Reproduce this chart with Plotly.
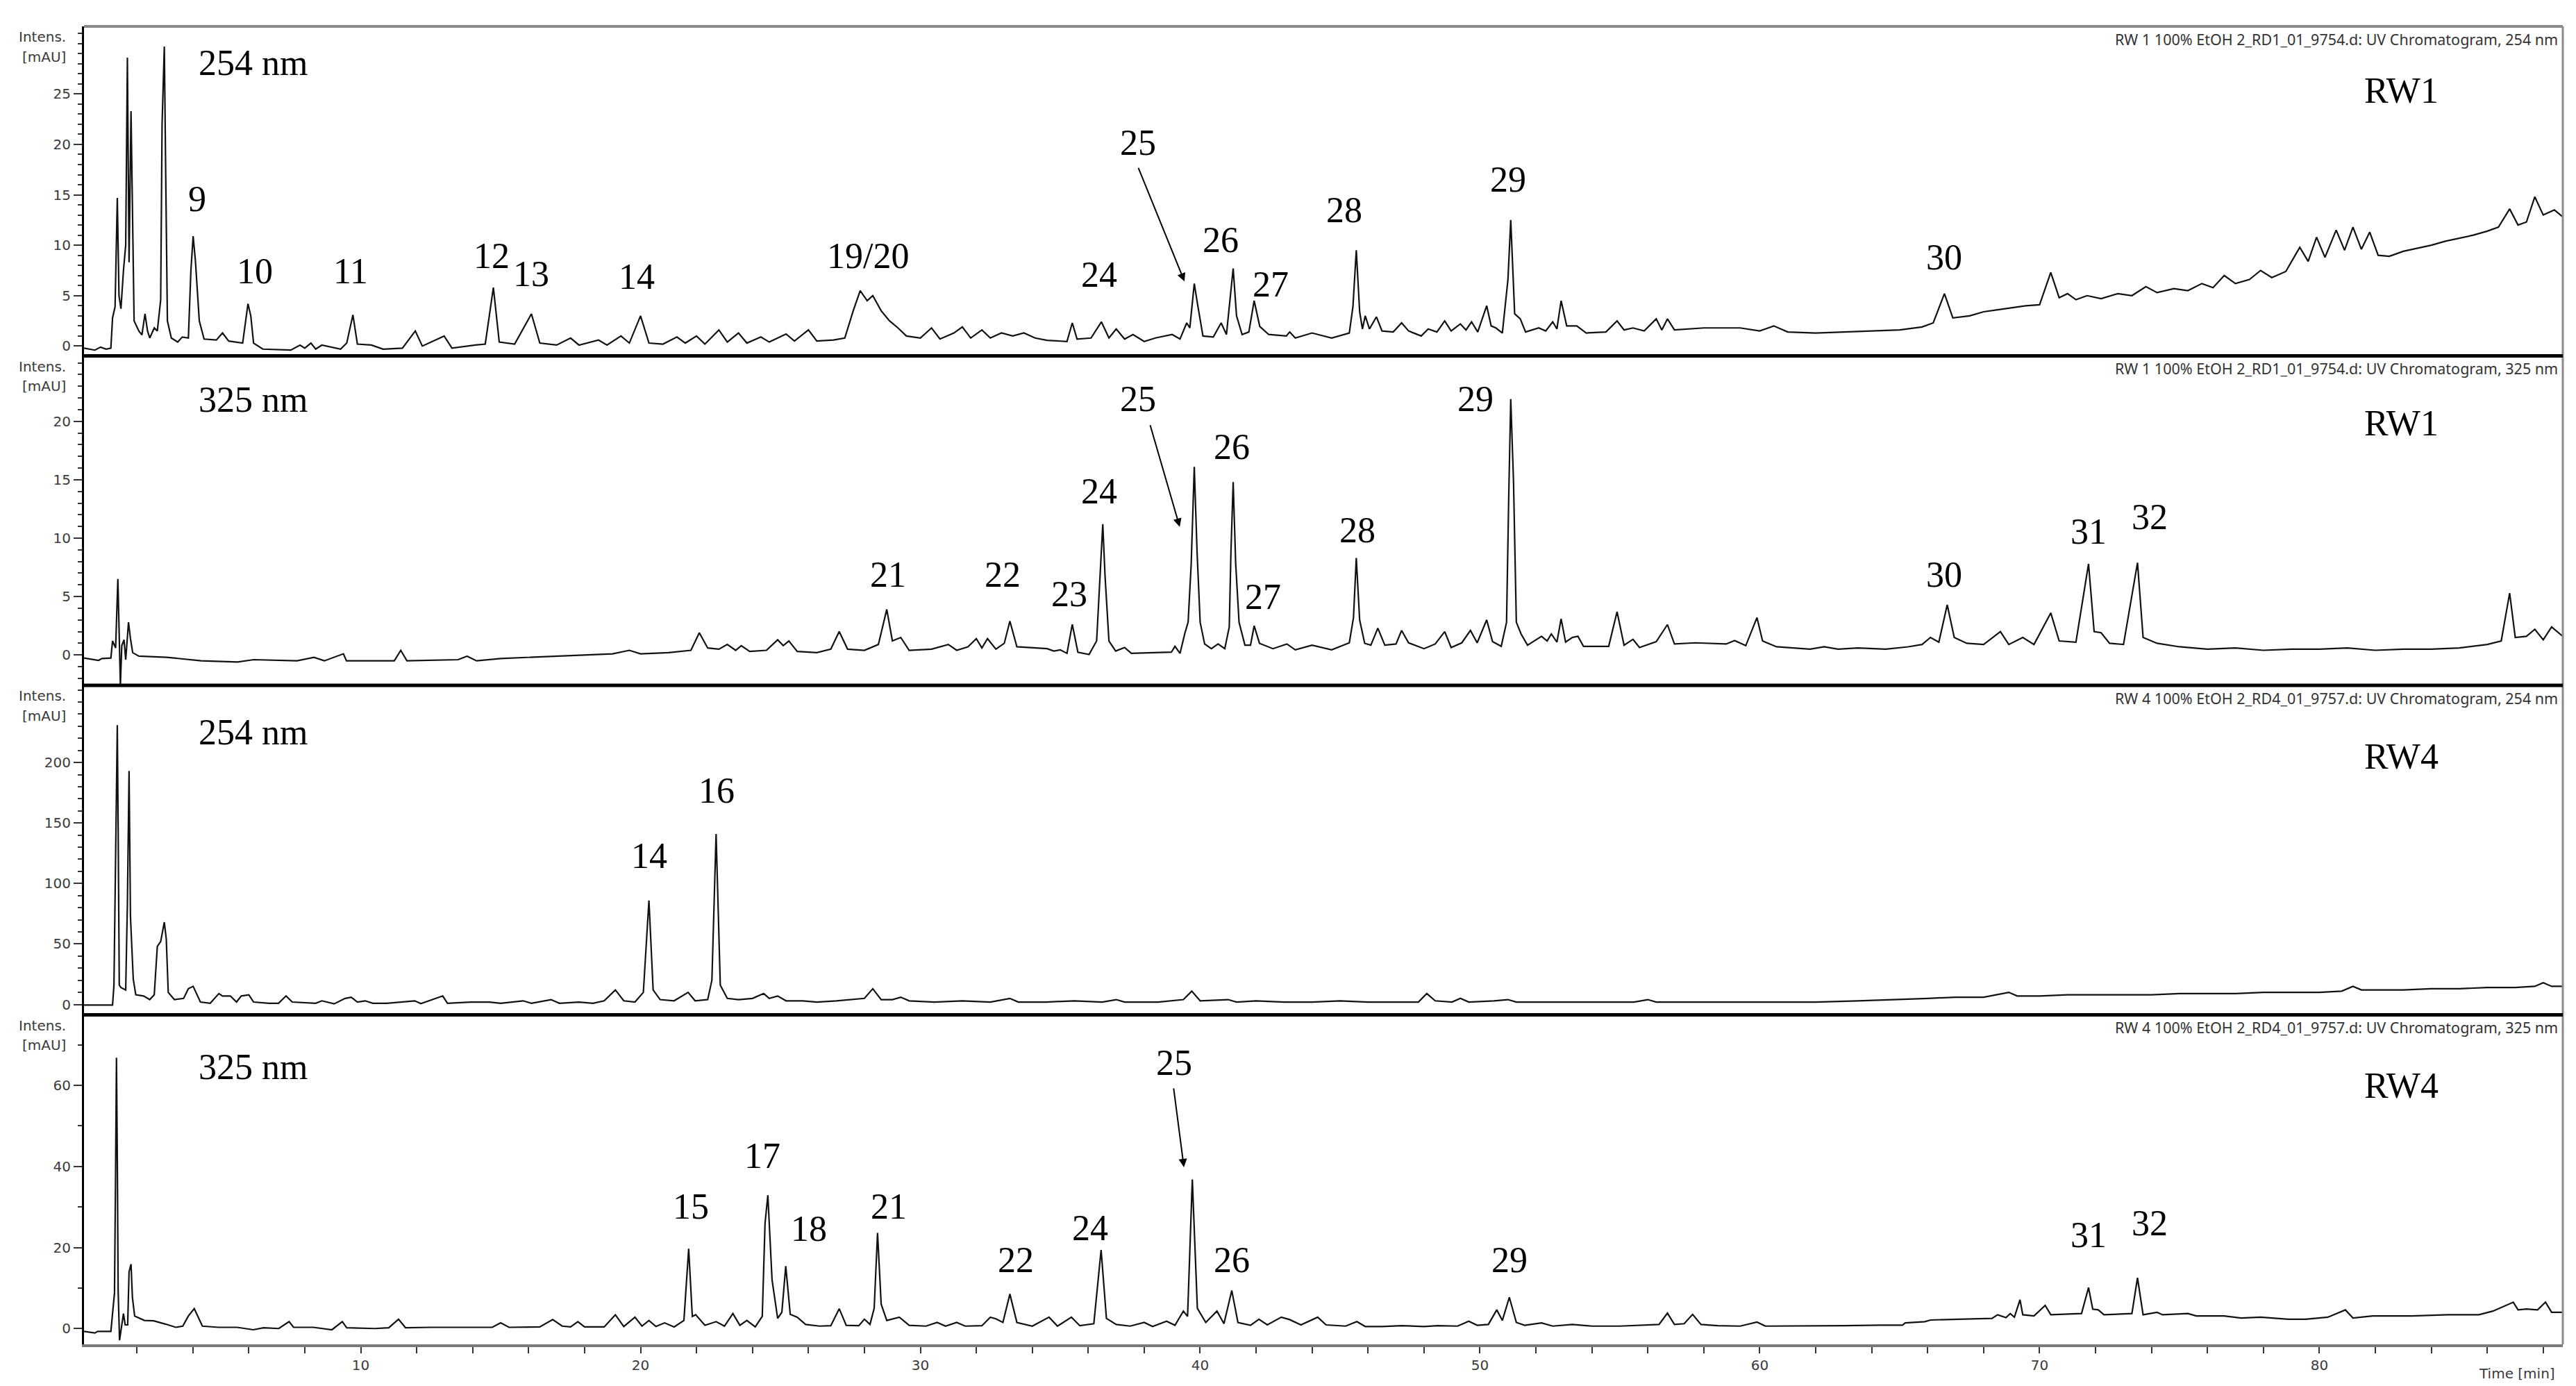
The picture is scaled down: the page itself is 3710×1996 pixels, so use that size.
import plotly.graph_objects as go
from plotly.subplots import make_subplots

# retention time [min], intensity [mAU]
rw1_254 = [(0.11,-0.2),(0.5,-0.4),(0.7,-0.1),(0.9,-0.3),(1.07,-0.2),(1.13,2.8),(1.22,3.9),(1.30,14.7),(1.36,5),(1.43,3.7),
           (1.52,7.5),(1.60,10),(1.66,28.6),(1.72,8.3),(1.79,23.3),(1.85,10),(1.90,2.5),(2.07,1.5),(2.18,1.1),(2.29,3.2),
           (2.38,1.5),(2.46,0.8),(2.62,1.8),(2.73,1.5),(2.85,4.6),(2.90,22),(2.98,29.7),(3.03,17),(3.09,2.5),(3.23,0.8),
           (3.46,0.4),(3.62,0.9),(3.84,0.8),(3.93,7.5),(4.01,10.9),(4.09,8.5),(4.23,2.5),(4.40,0.7),(4.84,0.6),(5.06,1.3),
           (5.28,0.5),(5.78,0.3),(5.90,3.0),(5.97,4.2),(6.07,3.0),(6.17,0.3),(6.50,-0.3),(7.50,-0.4),(7.83,0.1),(8.0,-0.2),
           (8.22,0.3),(8.39,-0.3),(8.61,0.1),(9.28,-0.3),(9.5,0.3),(9.72,3.1),(9.88,0.2),(10.38,0.1),(10.8,-0.3),(11.49,-0.2),
           (11.95,1.5),(12.2,0),(12.98,1.0),(13.26,-0.2),(14.1,0.1),(14.45,0.2),(14.74,5.8),(14.95,0.4),(15.5,0.2),(16.1,3.2),
           (16.4,0.3),(17.0,0.1),(17.5,0.8),(17.8,0.1),(18.5,0.6),(18.8,0.1),(19.3,1.0),(19.6,0.3),(20.0,3.0),(20.3,0.3),
           (20.8,0.2),(21.3,0.9),(21.6,0.3),(22.0,1.0),(22.3,0.2),(22.8,1.6),(23.1,0.4),(23.5,1.3),(23.8,0.3),(24.3,0.9),
           (24.6,0.4),(25.2,1.2),(25.5,0.5),(26.0,1.6),(26.3,0.5),(26.9,0.6),(27.3,0.8),(27.6,3.5),(27.85,5.5),(28.1,4.5),
           (28.3,5.0),(28.6,3.5),(28.9,2.5),(29.2,1.8),(29.5,1.0),(30.0,0.8),(30.4,1.8),(30.7,0.7),(31.2,1.3),(31.5,1.9),
           (31.8,0.8),(32.2,1.6),(32.5,0.8),(32.9,1.3),(33.3,1.0),(33.7,1.3),(34.1,0.8),(34.53,0.57),(35.24,0.46),(35.43,2.3),
           (35.6,0.7),(36.1,0.8),(36.47,2.4),(36.74,0.8),(37.0,1.7),(37.3,0.7),(37.6,1.15),(38.0,0.46),(38.4,0.8),(39.0,1.15),
           (39.28,0.7),(39.52,2.3),(39.63,1.8),(39.79,6.2),(39.91,4.1),(40.1,1.0),(40.47,0.9),(40.75,2.3),(40.94,1.15),(41.18,7.7),
           (41.3,3.0),(41.5,1.15),(41.74,1.4),(41.93,4.5),(42.13,1.95),(42.45,1.15),(43.08,1.0),(43.2,1.4),(43.4,0.8),(44.0,1.3),
           (44.7,0.8),(45.33,1.3),(45.46,3.9),(45.58,9.5),(45.7,3.4),(45.8,1.7),(45.9,3.0),(46.05,1.7),(46.3,2.9),(46.5,1.5),
           (46.9,1.4),(47.2,2.3),(47.45,1.5),(47.9,1.0),(48.15,1.7),(48.46,1.4),(48.74,2.5),(48.97,1.5),(49.3,2.2),(49.5,1.6),
           (49.7,2.4),(49.92,1.4),(50.24,4.0),(50.4,2.0),(50.57,1.8),(50.8,1.3),(51.0,6.6),(51.1,12.5),(51.24,3.2),(51.44,2.7),
           (51.63,1.4),(52.1,1.8),(52.35,1.5),(52.6,2.4),(52.75,1.7),(52.9,4.5),(53.1,2.0),(53.46,2.0),(53.8,1.3),(54.5,1.4),
           (54.9,2.5),(55.15,1.6),(55.47,1.8),(55.87,1.5),(56.3,2.7),(56.5,1.6),(56.7,2.7),(56.95,1.6),(58.0,1.8),(59.3,1.8),
           (60.0,1.5),(60.5,2.0),(61.0,1.4),(62.0,1.3),(63.0,1.4),(64.0,1.5),(65.0,1.6),(65.8,1.9),(66.2,2.3),(66.6,5.2),
           (66.9,2.8),(67.5,3.0),(68.0,3.4),(68.5,3.6),(69.0,3.8),(69.5,4.0),(70.0,4.1),(70.4,7.3),(70.7,4.8),(71.0,5.2),
           (71.3,4.6),(71.7,5.0),(72.2,4.7),(72.8,5.2),(73.3,5.0),(73.8,5.9),(74.2,5.3),(74.8,5.7),(75.3,5.5),(75.8,6.2),
           (76.2,5.8),(76.6,7.0),(77.0,6.2),(77.5,6.6),(77.9,7.5),(78.3,6.8),(78.8,7.4),(79.3,9.8),(79.6,8.4),(79.9,10.8),
           (80.2,8.8),(80.6,11.5),(80.9,9.5),(81.2,11.8),(81.5,9.6),(81.8,11.3),(82.1,9.0),(82.5,8.9),(83.0,9.4),(83.5,9.7),
           (84.0,10.0),(84.5,10.4),(85.0,10.7),(85.5,11.0),(86.0,11.4),(86.4,11.8),(86.8,13.6),(87.1,12.0),(87.4,12.3),(87.7,14.8),
           (88.0,13.0),(88.4,13.5),(88.7,12.8)]

rw1_325 = [(0.11,-0.26),(0.63,-0.46),(0.75,-0.3),(1.07,-0.26),(1.13,1.2),(1.24,0.6),(1.32,6.5),(1.37,0.8),(1.41,-2.6),(1.46,0.8),
           (1.54,1.3),(1.60,-0.4),(1.70,2.8),(1.77,1.4),(1.85,0.2),(2.07,-0.1),(3.07,-0.2),(4.3,-0.5),(5.6,-0.6),(6.17,-0.4),
           (7.72,-0.5),(8.33,-0.2),(8.7,-0.5),(9.38,0.1),(9.49,-0.5),(11.2,-0.5),(11.43,0.4),(11.65,-0.5),(13.48,-0.4),(13.8,-0.1),
           (14.14,-0.5),(15.0,-0.3),(16.0,-0.2),(17.0,-0.1),(18.0,0.0),(19.0,0.1),(19.6,0.4),(20.0,0.1),(21.0,0.2),(21.8,0.4),
           (22.1,1.9),(22.4,0.6),(22.8,0.5),(23.1,0.9),(23.4,0.4),(23.6,0.8),(23.9,0.3),(24.5,0.4),(24.9,1.3),(25.1,0.8),
           (25.3,1.2),(25.6,0.3),(26.3,0.2),(26.8,0.5),(27.1,2.0),(27.4,0.5),(28.0,0.4),(28.5,0.9),(28.8,3.9),(29.0,1.2),
           (29.3,1.5),(29.6,0.4),(30.4,0.5),(31.0,0.9),(31.3,0.4),(31.7,0.7),(32.0,1.4),(32.2,0.6),(32.4,1.4),(32.7,0.5),
           (33.0,1.0),(33.2,2.9),(33.45,0.7),(34.0,0.6),(34.53,0.54),(34.77,0.34),(35.0,0.44),(35.24,0.14),(35.43,2.62),(35.63,0.24),
           (36.03,0.04),(36.3,1.2),(36.42,6.8),(36.52,11.2),(36.6,6.8),(36.74,1.2),(36.98,0.34),(37.3,0.64),(37.54,0.14),(38.97,0.24),
           (39.1,0.74),(39.28,0.14),(39.45,1.83),(39.57,2.82),(39.68,7.8),(39.79,16.1),(39.89,8.8),(40.0,2.8),(40.16,0.94),(40.4,0.54),
           (40.64,0.94),(40.88,0.54),(41.04,2.4),(41.1,8.8),(41.18,14.8),(41.27,7.8),(41.39,2.8),(41.6,0.84),(41.8,0.84),(41.93,2.5),
           (42.12,1.0),(42.6,0.54),(43.1,0.94),(43.4,0.44),(44.0,0.84),(44.7,0.44),(45.33,1.04),(45.48,3.2),(45.58,8.3),(45.7,3.0),
           (45.88,1.0),(46.1,0.84),(46.35,2.3),(46.6,0.84),(47.0,0.94),(47.2,2.1),(47.45,1.04),(48.0,0.54),(48.4,0.94),(48.74,2.0),
           (48.97,0.64),(49.35,1.04),(49.66,2.1),(49.9,1.04),(50.24,3.0),(50.45,1.14),(50.76,0.74),(50.95,2.8),(51.03,13.75),(51.1,21.9),
           (51.2,14.8),(51.3,2.8),(51.47,1.8),(51.7,0.84),(52.2,1.6),(52.4,1.2),(52.55,1.8),(52.75,1.1),(52.9,3.1),(53.06,1.1),
           (53.3,1.5),(53.5,1.6),(53.7,0.74),(54.6,0.74),(54.9,3.7),(55.15,0.84),(55.47,1.34),(55.7,0.64),(56.3,1.14),(56.7,2.6),
           (56.95,0.94),(57.7,1.04),(58.8,0.94),(59.1,1.24),(59.5,0.8),(59.9,3.2),(60.1,1.2),(60.6,0.7),(61.2,0.6),(61.8,0.5),
           (62.3,0.7),(62.8,0.5),(63.5,0.6),(64.5,0.5),(65.3,0.7),(65.8,0.9),(66.1,1.5),(66.4,1.1),(66.7,4.3),(66.95,1.5),
           (67.4,1.0),(68.0,0.9),(68.6,2.0),(68.9,0.9),(69.4,1.5),(69.8,0.9),(70.4,3.6),(70.7,1.2),(71.3,1.1),(71.75,7.8),
           (71.95,2.0),(72.2,1.9),(72.5,1.0),(73.0,0.9),(73.5,7.9),(73.7,1.5),(74.2,1.0),(75.0,0.7),(76.0,0.5),(77.0,0.6),
           (78.0,0.4),(79.0,0.5),(80.0,0.5),(81.0,0.6),(82.0,0.4),(83.0,0.5),(84.0,0.5),(85.0,0.6),(86.0,0.9),(86.5,1.2),
           (86.8,5.3),(87.0,1.5),(87.4,1.6),(87.7,2.2),(88.0,1.3),(88.3,2.4),(88.7,1.6)]

rw4_254 = [(0.11,-0.5),(1.13,-0.5),(1.18,16),(1.24,132),(1.30,231),(1.33,146),(1.37,16),(1.43,14),(1.60,12),(1.66,83),
           (1.72,193),(1.77,73),(1.83,44),(1.87,21),(1.96,8),(2.24,7),(2.46,4),(2.62,8),(2.73,48),(2.85,52),
           (2.98,68),(3.05,54),(3.12,10),(3.34,4),(3.67,5),(3.84,13),(4.01,15),(4.27,2),(4.62,1),(4.93,9),
           (5.06,7),(5.34,7),(5.56,2),(5.73,7),(6.0,8),(6.17,2),(6.72,1),(7.06,1),(7.33,7),(7.55,2),
           (8.39,1),(8.61,3),(9.05,0.5),(9.44,5),(9.66,6),(9.88,2),(10.16,3),(10.43,1),(10.93,1),(11.93,3),
           (12.15,0.7),(12.93,7),(13.1,1),(13.93,2),(14.6,2),(15.0,1),(15.8,3),(16.1,1),(16.8,4),(17.1,1),
           (17.8,2),(18.3,1),(18.7,3),(19.1,12),(19.4,3),(19.8,2),(20.1,10),(20.3,86),(20.45,12),(20.7,4),
           (21.2,3),(21.7,10),(21.95,3),(22.4,4),(22.55,20),(22.7,141),(22.85,16),(23.1,5),(23.5,4),(24.0,5),
           (24.4,9),(24.6,5),(24.9,7),(25.2,3),(25.8,3),(26.3,2),(27.0,3),(27.6,4),(28.0,5),(28.3,13),
           (28.6,4),(29.0,4),(29.3,6),(29.6,3),(30.5,2),(31.5,3),(32.5,2),(33.2,5),(33.5,2),(34.5,2),
           (35.5,3),(36.5,2),(37.0,4),(37.3,2),(38.5,2),(39.4,4),(39.7,11),(40.0,3),(41.0,4),(41.3,2),
           (42.0,3),(43.0,2),(44.0,2),(45.0,3),(46.0,2),(47.0,2),(47.8,2),(48.1,9),(48.4,3),(49.0,2),
           (49.3,5),(49.6,2),(50.5,3),(51.0,4),(51.3,2),(52.5,2),(54.0,2),(55.5,2),(56.0,4),(56.3,2),
           (57.5,2),(59.0,2),(60.5,2),(62.0,2),(63.5,3),(65.0,4),(66.0,5),(67.0,6),(68.0,6),(68.9,10),
           (69.2,7),(70.0,7),(71.0,8),(72.0,8),(73.0,8),(74.0,8),(75.0,9),(76.0,9),(77.0,9),(78.0,10),
           (79.0,10),(80.0,10),(80.8,11),(81.2,15),(81.5,12),(82.0,12),(83.0,12),(84.0,13),(85.0,13),(86.0,14),
           (87.0,14),(87.7,15),(88.0,18),(88.3,15),(88.7,15)]

rw4_325 = [(0.11,-0.7),(0.5,-1.1),(0.6,-0.7),(1.07,-0.7),(1.13,3.7),(1.2,8.8),(1.24,40),(1.27,66.8),(1.30,42),(1.33,9.4),
           (1.38,-2.9),(1.45,0.6),(1.52,3.7),(1.58,0.9),(1.67,0.9),(1.72,14.0),(1.79,15.9),(1.84,7.7),(1.92,3.1),(2.27,2.0),
           (2.6,1.9),(3.02,1.1),(3.39,0.3),(3.64,0.6),(3.84,3.1),(4.05,4.9),(4.21,2.5),(4.34,0.6),(4.92,0.3),(5.58,0.3),
           (6.16,-0.3),(6.53,0.2),(7.07,0.0),(7.44,1.7),(7.6,0.3),(8.31,0.3),(8.97,-0.3),(9.34,1.7),(9.5,0.2),(10.5,0.0),
           (11.0,0.2),(11.35,2.3),(11.6,0.2),(12.5,0.3),(14.7,0.3),(15.0,1.4),(15.3,0.3),(16.4,0.4),(16.86,2.2),(17.2,0.6),
           (17.5,0.4),(17.76,1.7),(18.0,0.4),(18.7,0.4),(19.1,3.4),(19.4,0.5),(19.8,2.8),(20.05,0.6),(20.3,2.0),(20.55,0.5),
           (20.86,1.4),(21.2,0.4),(21.55,2.0),(21.72,19.7),(21.85,3.0),(21.97,3.4),(22.3,0.8),(22.7,1.7),(23.0,0.6),(23.3,3.7),
           (23.55,0.8),(23.8,2.0),(24.1,0.4),(24.35,3.0),(24.45,26.0),(24.55,32.9),(24.7,12),(24.9,2.5),(25.05,4),(25.19,15.4),
           (25.35,3.5),(25.6,2.8),(25.9,1.0),(26.4,0.6),(26.8,0.7),(27.1,4.9),(27.35,0.8),(27.8,0.7),(28.0,2.3),(28.2,1.0),
           (28.35,5),(28.47,23.6),(28.6,6),(28.8,2.0),(29.25,2.8),(29.6,0.8),(30.2,0.6),(30.6,1.5),(30.9,0.6),(31.3,1.5),
           (31.6,0.6),(32.2,0.7),(32.5,2.8),(32.7,2.4),(32.95,1.5),(33.2,8.5),(33.45,1.5),(34.0,0.6),(34.6,2.8),(34.9,0.6),
           (35.4,2.8),(35.7,0.7),(36.2,1.2),(36.46,19.4),(36.65,2.5),(37.0,1.0),(37.5,0.6),(38.0,1.5),(38.3,0.5),(38.8,1.8),
           (39.1,0.8),(39.4,4.3),(39.55,3.0),(39.72,36.8),(39.9,5),(40.2,1.5),(40.6,4.3),(40.85,1.2),(41.13,9.4),(41.35,1.5),
           (41.8,0.8),(42.1,2.3),(42.4,0.9),(42.9,2.8),(43.2,2.2),(43.6,0.9),(44.2,2.8),(44.5,0.9),(45.2,0.6),(45.6,1.7),
           (45.9,0.5),(46.5,0.5),(47.2,0.7),(48.0,0.5),(48.5,0.7),(49.2,0.6),(49.6,1.8),(49.9,0.8),(50.3,1.0),(50.6,4.6),
           (50.8,2.0),(51.05,7.7),(51.3,1.5),(51.6,0.8),(52.2,1.4),(52.6,0.6),(53.3,1.0),(54.0,0.6),(55.0,0.6),(56.0,0.8),
           (56.4,1.0),(56.7,3.8),(56.95,1.0),(57.3,1.2),(57.6,3.5),(57.9,1.0),(58.5,0.7),(59.3,0.6),(59.9,1.6),(60.2,0.6),
           (61.0,0.6),(62.0,0.7),(63.0,0.7),(64.3,0.85),(65.1,0.85),(65.2,1.4),(65.9,1.7),(66.1,2.1),(66.5,2.2),(67.1,2.3),
           (68.3,2.5),(68.5,3.4),(68.8,2.7),(68.95,3.7),(69.1,2.8),(69.3,7.1),(69.4,3.4),(69.8,3.1),(70.2,5.7),(70.4,3.4),
           (71.5,3.7),(71.75,10.1),(71.9,4.8),(72.1,4.6),(72.3,3.4),(73.3,3.7),(73.5,12.5),(73.7,3.4),(74.2,4.0),(74.4,3.4),
           (75.3,3.7),(75.6,3.1),(76.6,3.1),(77.2,2.6),(77.9,2.8),(78.9,2.3),(79.5,2.3),(80.3,2.8),(80.93,4.6),(81.2,2.6),
           (81.9,3.1),(83.3,3.1),(84.6,3.4),(85.7,3.4),(86.2,4.3),(86.93,6.5),(87.1,4.6),(87.4,4.8),(87.8,4.6),(88.08,6.5),
           (88.3,4.0),(88.7,4.0)]

traces = [rw1_254, rw1_325, rw4_254, rw4_325]
headers = ["RW 1 100% EtOH 2_RD1_01_9754.d: UV Chromatogram, 254 nm",
           "RW 1 100% EtOH 2_RD1_01_9754.d: UV Chromatogram, 325 nm",
           "RW 4 100% EtOH 2_RD4_01_9757.d: UV Chromatogram, 254 nm",
           "RW 4 100% EtOH 2_RD4_01_9757.d: UV Chromatogram, 325 nm"]
wavelengths = ["254 nm", "325 nm", "254 nm", "325 nm"]
samples = ["RW1", "RW1", "RW4", "RW4"]
y_ranges = [[-0.97, 31.7], [-2.6, 25.6], [-8.6, 263.8], [-3.9, 77.4]]
y_ticks = [[0, 5, 10, 15, 20, 25], [0, 5, 10, 15, 20], [0, 50, 100, 150, 200], [0, 20, 40, 60]]
y_minor = [1, 1, 10, 10]

# peak labels: (panel, text, time, intensity)
peak_labels = [
    (1, "9", 4.16, 14.6), (1, "10", 6.22, 7.45), (1, "11", 9.64, 7.45), (1, "12", 14.68, 8.97),
    (1, "13", 16.09, 7.17), (1, "14", 19.86, 6.9), (1, "19/20", 28.13, 8.97), (1, "24", 36.39, 7.1),
    (1, "25", 37.78, 20.2), (1, "26", 40.73, 10.5), (1, "27", 42.52, 6.14), (1, "28", 45.15, 13.5),
    (1, "29", 51.0, 16.5), (1, "30", 66.6, 8.83),
    (2, "21", 28.85, 6.86), (2, "22", 32.94, 6.86), (2, "23", 35.32, 5.19), (2, "24", 36.39, 14.0),
    (2, "25", 37.78, 21.9), (2, "26", 41.13, 17.8), (2, "27", 42.25, 4.95), (2, "28", 45.62, 10.7),
    (2, "29", 49.84, 21.9), (2, "30", 66.59, 6.86), (2, "31", 71.75, 10.55), (2, "32", 73.93, 11.8),
    (3, "14", 20.31, 123), (3, "16", 22.72, 177),
    (4, "15", 21.8, 30.1), (4, "17", 24.35, 42.6), (4, "18", 26.02, 24.6), (4, "21", 28.87, 30.1),
    (4, "22", 33.41, 16.9), (4, "24", 36.07, 24.8), (4, "25", 39.07, 65.5), (4, "26", 41.13, 16.9),
    (4, "29", 51.05, 16.9), (4, "31", 71.75, 23.1), (4, "32", 73.93, 26.0)]

# arrows pointing at peak 25: (panel, tip time, tip intensity, dx px, dy px)
arrows = [(1, 39.44, 6.41, -67, -165), (2, 39.27, 10.97, -43, -148), (4, 39.42, 39.8, -15, -115)]

fig = make_subplots(rows=4, cols=1, shared_xaxes=True, vertical_spacing=0)

for i, pts in enumerate(traces):
    t = [p[0] for p in pts]
    v = [p[1] for p in pts]
    fig.add_trace(go.Scatter(x=t, y=v, mode="lines", line=dict(color="#111111", width=2.2),
                             showlegend=False, hoverinfo="skip"), row=i + 1, col=1)

tick_font = dict(family="DejaVu Sans", size=20, color="#3a3a3a")
for i in range(4):
    fig.update_yaxes(range=y_ranges[i], tickmode="array", tickvals=y_ticks[i],
                     ticks="outside", ticklen=12, tickwidth=2, tickcolor="#333",
                     minor=dict(tickmode="linear", tick0=0, dtick=y_minor[i], ticks="outside",
                                ticklen=6, tickwidth=2, tickcolor="#333"),
                     showline=True, linecolor="black", linewidth=3, showgrid=False, zeroline=False,
                     tickfont=tick_font, row=i + 1, col=1)
    fig.update_xaxes(range=[0.11, 88.7], showgrid=False, zeroline=False, row=i + 1, col=1)

for i in range(3):
    fig.update_xaxes(ticks="", showticklabels=False, showline=False, row=i + 1, col=1)

fig.update_xaxes(tickmode="array", tickvals=[10, 20, 30, 40, 50, 60, 70, 80],
                 ticks="outside", ticklen=9, tickwidth=2, tickcolor="#333",
                 minor=dict(tickmode="linear", tick0=0, dtick=2, ticks="outside", ticklen=9,
                            tickwidth=2, tickcolor="#333"),
                 showline=True, linecolor="#7a7a7a", linewidth=4, tickfont=tick_font,
                 showticklabels=True, row=4, col=1)

serif = dict(family="Liberation Serif", size=52, color="black")
wl_y = [0.89, 0.867, 0.857, 0.842]
rw_y = [0.806, 0.795, 0.783, 0.785]
for i in range(4):
    xr = "x domain" if i == 0 else "x%d domain" % (i + 1)
    yr = "y domain" if i == 0 else "y%d domain" % (i + 1)
    fig.add_annotation(xref=xr, yref=yr, x=0.9986, y=0.962, text=headers[i], showarrow=False,
                       xanchor="right", yanchor="middle",
                       font=dict(family="Noto Sans", size=21.5, color="#333"))
    fig.add_annotation(xref=xr, yref=yr, x=0.0683, y=wl_y[i], text=wavelengths[i], showarrow=False,
                       xanchor="center", yanchor="middle", font=serif)
    fig.add_annotation(xref=xr, yref=yr, x=0.935, y=rw_y[i], text=samples[i], showarrow=False,
                       xanchor="center", yanchor="middle", font=serif)
    fig.add_annotation(xref=xr, yref=yr, x=-0.0067, y=0.968, text="Intens.", showarrow=False,
                       xanchor="right", yanchor="middle", font=dict(family="DejaVu Sans", size=20, color="#3a3a3a"))
    fig.add_annotation(xref=xr, yref=yr, x=-0.0067, y=0.908, text="[mAU]", showarrow=False,
                       xanchor="right", yanchor="middle", font=dict(family="DejaVu Sans", size=20, color="#3a3a3a"))

for panel, txt, t, v in peak_labels:
    xr = "x" if panel == 1 else "x%d" % panel
    yr = "y" if panel == 1 else "y%d" % panel
    fig.add_annotation(xref=xr, yref=yr, x=t, y=v, text=txt, showarrow=False,
                       xanchor="center", yanchor="middle", font=serif)

for panel, t, v, dx, dy in arrows:
    xr = "x" if panel == 1 else "x%d" % panel
    yr = "y" if panel == 1 else "y%d" % panel
    fig.add_annotation(xref=xr, yref=yr, x=t, y=v, ax=dx, ay=dy, text="", showarrow=True,
                       arrowhead=2, arrowsize=1.2, arrowwidth=2, arrowcolor="black", standoff=0)

fig.add_annotation(xref="x4 domain", yref="paper", x=0.9814, y=-0.015, text="Time [min]", showarrow=False,
                   xanchor="center", yanchor="top", font=tick_font)

# frame: gray top/right border, thick black separators between panels
fig.add_shape(type="line", xref="paper", yref="paper", x0=0, x1=1, y0=1, y1=1,
              line=dict(color="#8a8a8a", width=4))
fig.add_shape(type="line", xref="paper", yref="paper", x0=1, x1=1, y0=0, y1=1,
              line=dict(color="#8a8a8a", width=3))
for yb in [0.75, 0.5, 0.25]:
    fig.add_shape(type="line", xref="paper", yref="paper", x0=0, x1=1, y0=yb, y1=yb,
                  line=dict(color="black", width=5))

fig.update_layout(width=3710, height=1996, margin=dict(l=113, r=27, t=30, b=68),
                  plot_bgcolor="white", paper_bgcolor="white")

fig.write_html("out.html")
